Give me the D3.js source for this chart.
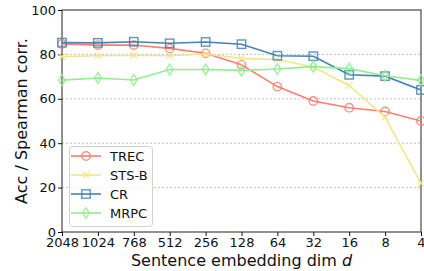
<!DOCTYPE html>
<html><head><meta charset="utf-8">
<script src="https://cdn.jsdelivr.net/npm/d3@7"></script>
<style>body{margin:0;background:#fff}svg{display:block}text{font-family:"DejaVu Sans",sans-serif}</style>
</head><body><svg id="c" width="424" height="271"></svg>
<script>
const categories = ["2048","1024","768","512","256","128","64","32","16","8","4"];
const yTicks = [0,20,40,60,80,100];
const TREC  = [84.7,84.2,84.2,82.7,80.5,75.3,65.5,59,56,54.3,50];
const STSB  = [79,79.4,79.6,79.4,80.2,78.2,77.7,74.3,66,51.7,21.9];
const CR    = [85.3,85.2,85.7,85,85.6,84.6,79.4,79.2,70.8,70.2,64];
const MRPC  = [68.4,69.4,68.5,73.2,73.2,72.8,73.4,74.5,73.6,70.4,68.3];
const seriesNames = ["TREC","STS-B","CR","MRPC"];
const seriesColors = ["#FA7F6F","#F0E68C","#4682B4","#90EE90"];
const seriesMarkers = ["circle","x","square","diamond"];
const seriesData = [TREC,STSB,CR,MRPC];

const svg = d3.select("#c");
const L=62, R=421, T=10, B=232;
const x = d3.scalePoint().domain(categories).range([L,R]);
const y = d3.scaleLinear().domain([0,100]).range([B,T]);

// grid
svg.append("g").selectAll("line").data(yTicks.filter(v=>v>0&&v<100)).join("line")
  .attr("x1",L).attr("x2",R).attr("y1",d=>y(d)).attr("y2",d=>y(d))
  .attr("stroke","#b0b0b0").attr("stroke-width",0.8).attr("stroke-dasharray","2,2");

// axes
const ya = svg.append("g").attr("transform",`translate(${L},0)`)
  .call(d3.axisLeft(y).tickValues(yTicks).tickSize(4).tickPadding(2));
const xa = svg.append("g").attr("transform",`translate(0,${B})`)
  .call(d3.axisBottom(x).tickSize(4).tickPadding(2));
[ya,xa].forEach(a=>{a.select(".domain").remove();a.selectAll("text").attr("font-size",13).attr("fill","#111").attr("font-family","DejaVu Sans");a.selectAll(".tick line").attr("stroke","#111");});
// spines
svg.append("rect").attr("x",L).attr("y",T).attr("width",R-L).attr("height",B-T)
  .attr("fill","none").attr("stroke","#222").attr("stroke-width",1);

function marker(g,type,cx,cy,color){
  const s=4.2;
  if(type==="circle") g.append("circle").attr("cx",cx).attr("cy",cy).attr("r",s).attr("fill","none").attr("stroke",color).attr("stroke-width",1.4);
  else if(type==="square") g.append("rect").attr("x",cx-s).attr("y",cy-s).attr("width",2*s).attr("height",2*s).attr("fill","none").attr("stroke",color).attr("stroke-width",1.4);
  else if(type==="diamond") g.append("path").attr("d",`M${cx},${cy-s*1.3}L${cx+s*0.8},${cy}L${cx},${cy+s*1.3}L${cx-s*0.8},${cy}Z`).attr("fill","none").attr("stroke",color).attr("stroke-width",1.4);
  else g.append("path").attr("d",`M${cx-s*0.8},${cy-s*0.8}L${cx+s*0.8},${cy+s*0.8}M${cx-s*0.8},${cy+s*0.8}L${cx+s*0.8},${cy-s*0.8}`).attr("stroke",color).attr("stroke-width",1.4);
}

const line = d3.line().x((d,i)=>x(categories[i])).y(d=>y(d));
const clip = svg.append("defs").append("clipPath").attr("id","cp").append("rect")
  .attr("x",L-6).attr("y",T).attr("width",R-L+12).attr("height",B-T);
seriesData.forEach((data,k)=>{
  const g = svg.append("g");
  g.append("path").datum(data).attr("d",line).attr("fill","none").attr("stroke",seriesColors[k]).attr("stroke-width",1.6);
  const mg = g.append("g").attr("opacity",0.85);
  data.forEach((v,i)=>marker(mg,seriesMarkers[k],x(categories[i]),y(v),seriesColors[k]));
});

// legend
const lg = svg.append("g");
lg.append("rect").attr("x",69.5).attr("y",146.5).attr("width",83).attr("height",80).attr("rx",3)
  .attr("fill","#fff").attr("fill-opacity",0.8).attr("stroke","#d0d0d0").attr("stroke-width",1);
seriesNames.forEach((n,k)=>{
  const cy = 156+k*19;
  lg.append("line").attr("x1",71).attr("x2",101).attr("y1",cy).attr("y2",cy).attr("stroke",seriesColors[k]).attr("stroke-width",1.6);
  marker(lg.append("g").attr("opacity",0.85),seriesMarkers[k],86,cy,seriesColors[k]);
  lg.append("text").attr("x",110).attr("y",cy).attr("dy","0.35em").attr("font-size",13).attr("fill","#111").text(n);
});

// labels
svg.append("text").attr("x",(L+R)/2).attr("y",266).attr("text-anchor","middle").attr("font-size",16).attr("fill","#111")
  .html('Sentence embedding dim <tspan font-style="italic">d</tspan>');
svg.append("text").attr("transform",`translate(27,${(T+B)/2}) rotate(-90)`).attr("text-anchor","middle").attr("font-size",16).attr("fill","#111")
  .text("Acc / Spearman corr.");
</script></body></html>
